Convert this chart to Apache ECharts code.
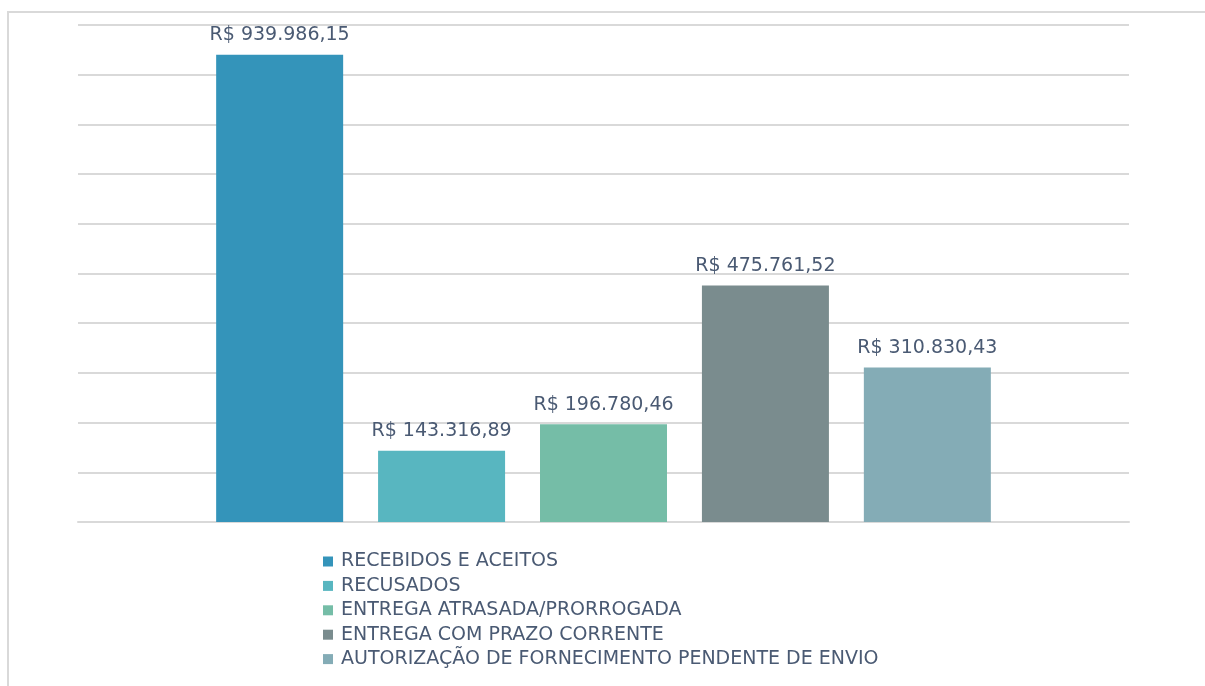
<!DOCTYPE html>
<html>
<head>
<meta charset="utf-8">
<script src="https://cdn.jsdelivr.net/npm/echarts@6/dist/echarts.min.js"></script>
<style>
    html, body { margin: 0; padding: 0; background: #fff; }
    #chart { width: 1205px; height: 686px; }
</style>
</head>
<body>
<div id="chart"></div>
<script>
// categoria única, uma série por situação
const categories = [''];
const seriesNames = [
    'RECEBIDOS E ACEITOS',
    'RECUSADOS',
    'ENTREGA ATRASADA/PRORROGADA',
    'ENTREGA COM PRAZO CORRENTE',
    'AUTORIZAÇÃO DE FORNECIMENTO PENDENTE DE ENVIO'
];
const seriesValues = [939986.15, 143316.89, 196780.46, 475761.52, 310830.43];
const seriesColors = ['#3494ba', '#58b6c0', '#75bda7', '#7a8c8e', '#84acb6'];

const textColor = '#4a5a73';
const fontFamily = '"DejaVu Sans", sans-serif';

function formatBRL(v) {  // R$ 939.986,15
    const parts = v.toFixed(2).split('.');
    const inteiro = parts[0].replace(/\B(?=(\d{3})+(?!\d))/g, '.');
    return 'R$ ' + inteiro + ',' + parts[1];
}

const myChart = echarts.init(document.getElementById('chart'));

const series = seriesNames.map(function (name, i) {
    return {
        name: name,
        type: 'bar',
        data: [seriesValues[i]],
        barWidth: 127,
        barGap: '27.5%',
        itemStyle: { color: seriesColors[i] },
        label: {
            show: true,
            position: 'top',
            distance: 10,
            color: textColor,
            fontFamily: fontFamily,
            fontSize: 19,
            formatter: function (p) { return formatBRL(p.value); }
        }
    };
});

myChart.setOption({
    animation: false,
    graphic: [
        {  // moldura cinza do gráfico
            type: 'polyline',
            shape: { points: [[8, 686], [8, 12], [1205, 12]] },
            style: { stroke: '#d9d9d9', lineWidth: 2, fill: null }
        }
    ],
    grid: { left: 78, right: 76, top: 25, bottom: 164 },
    legend: {
        orient: 'vertical',
        left: 323,
        top: 552,
        padding: 0,
        itemWidth: 10,
        itemHeight: 10,
        itemGap: 5.4,
        icon: 'rect',
        textStyle: {
            color: textColor,
            fontFamily: fontFamily,
            fontSize: 19,
            lineHeight: 19,
            padding: [0, 0, 0, 3]
        },
        data: seriesNames
    },
    xAxis: {
        type: 'category',
        data: categories,
        axisLine: { lineStyle: { color: '#d9d9d9', width: 2 } },
        axisTick: { show: false },
        axisLabel: { show: false }
    },
    yAxis: {
        type: 'value',
        min: 0,
        max: 1000000,
        interval: 100000,
        axisLine: { show: false },
        axisTick: { show: false },
        axisLabel: { show: false },
        splitLine: { lineStyle: { color: '#d9d9d9', width: 2 } }
    },
    series: series
});
</script>
</body>
</html>
